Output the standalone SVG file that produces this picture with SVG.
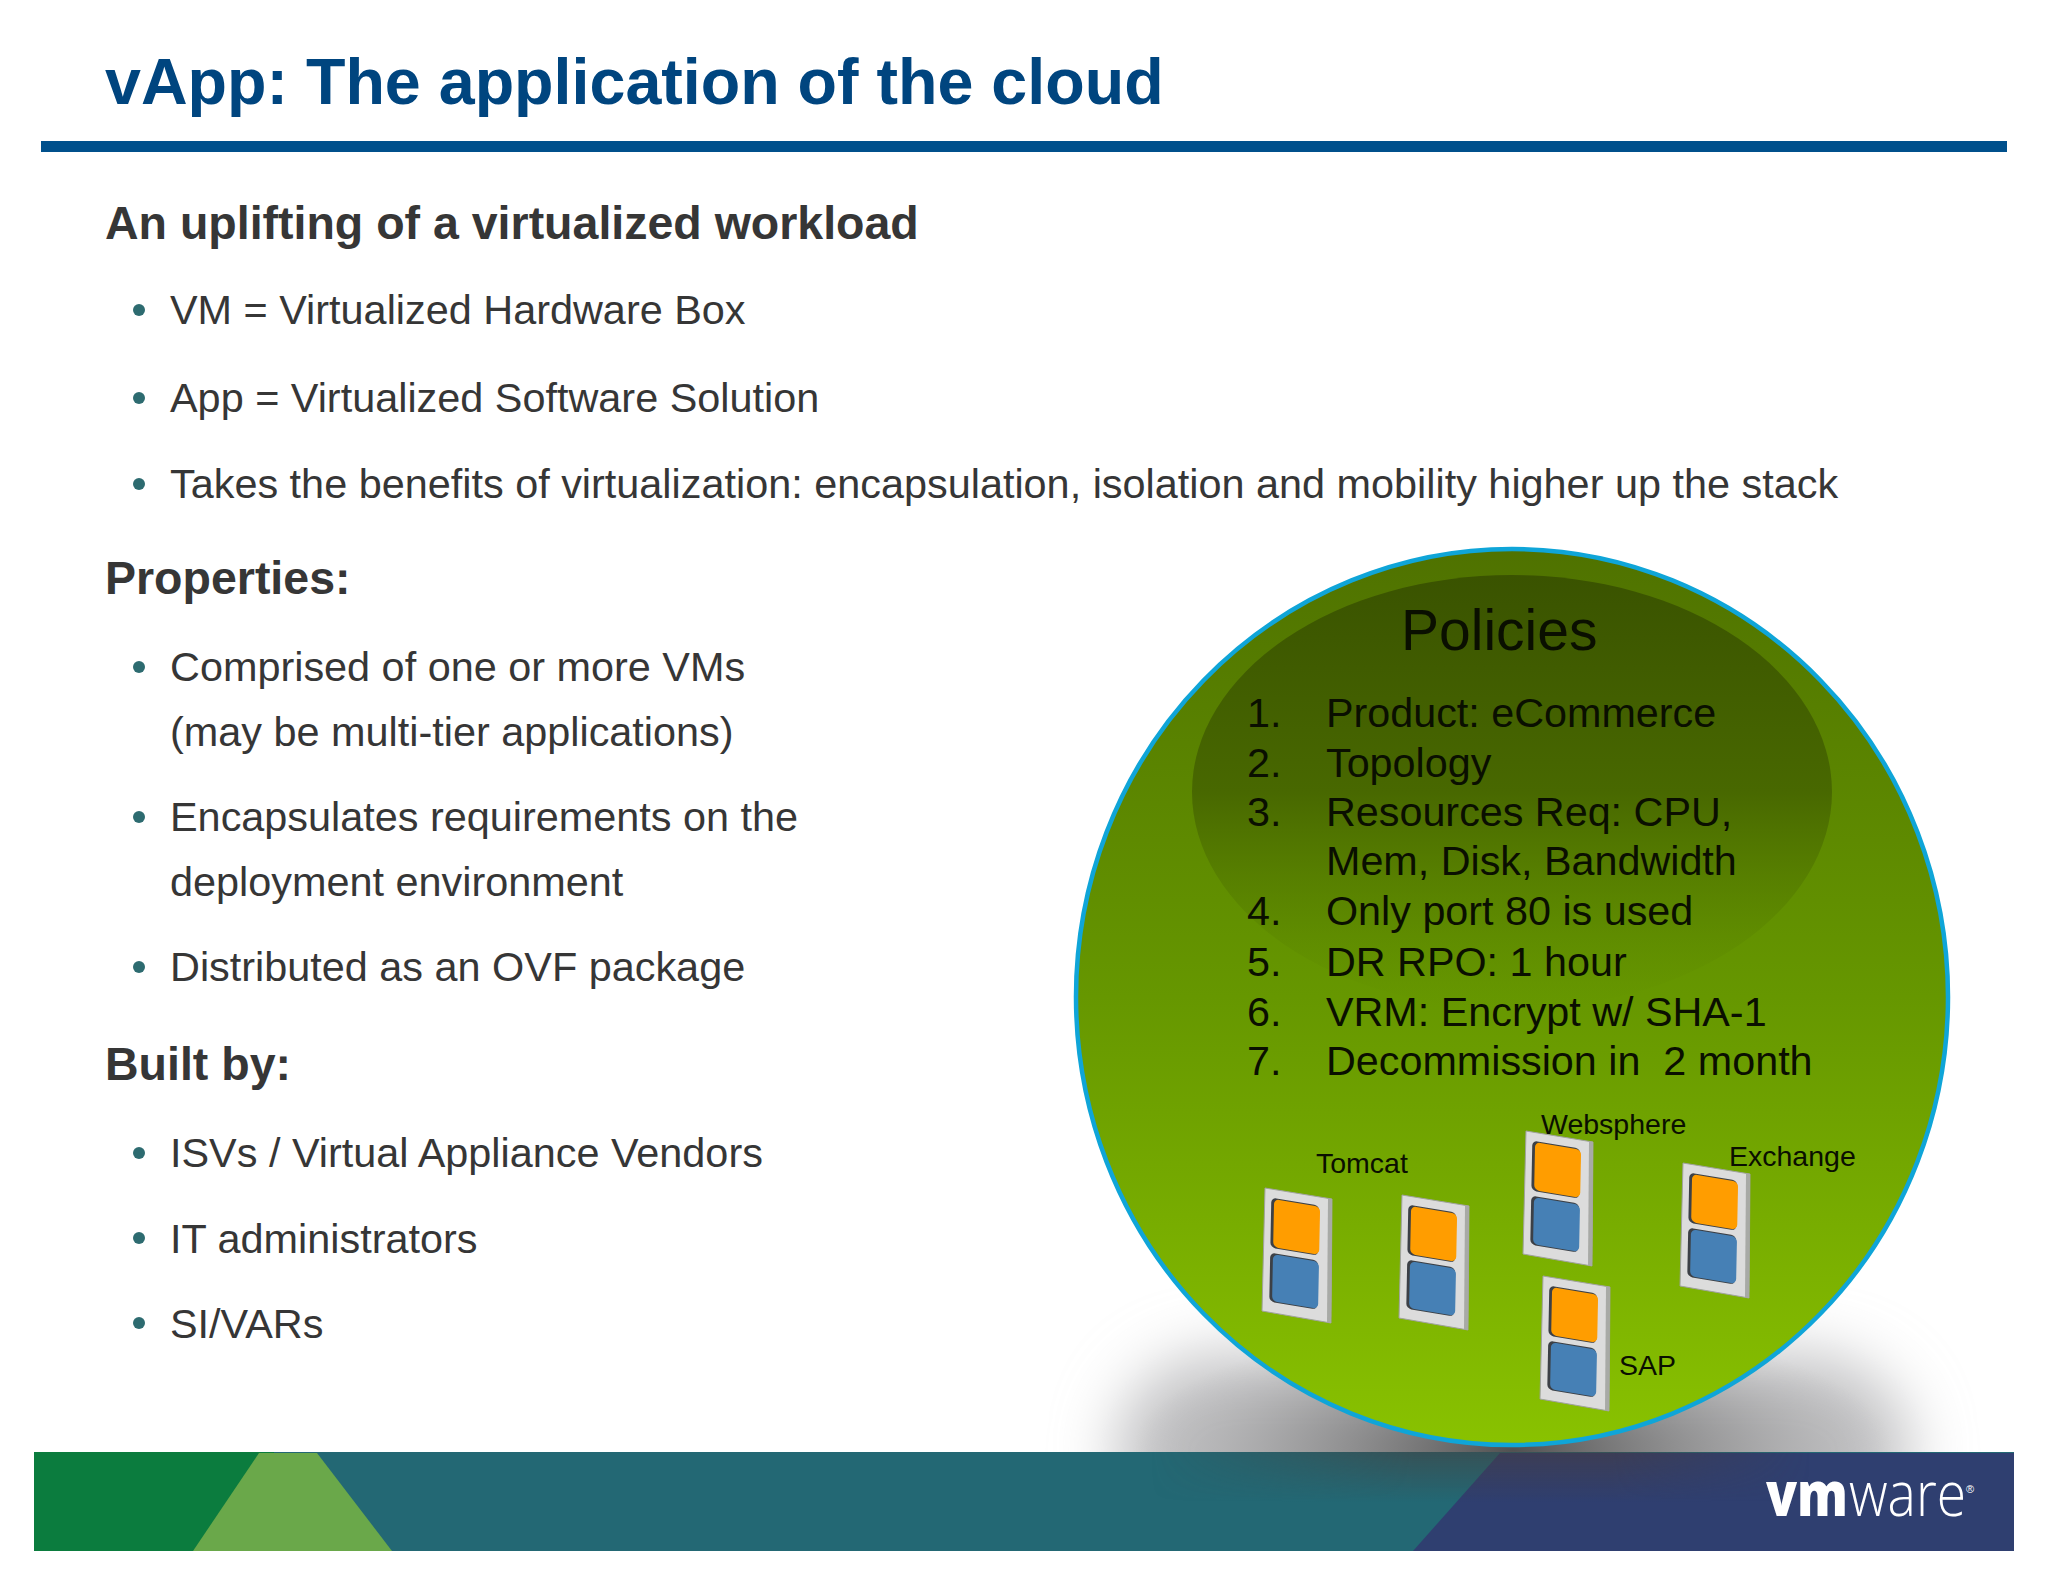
<svg xmlns="http://www.w3.org/2000/svg" width="2048" height="1582" viewBox="0 0 2048 1582">
<style>
text{font-family:"Liberation Sans",Arial,sans-serif}
.h{font-size:46.500px;font-weight:700;fill:#363636}
.b{font-size:41.400px;fill:#363636}
.d{fill:#2d6b70}
.p{font-size:41.300px;fill:#0a0f00}
.l{font-size:28.500px;fill:#0a0f00}
</style>
<defs>
<linearGradient id="sph" x1="0" y1="0" x2="0" y2="1"><stop offset="0" stop-color="#4f7200"/><stop offset=".5" stop-color="#669700"/><stop offset="1" stop-color="#89c200"/></linearGradient>
<linearGradient id="inner" x1="0" y1="0" x2="0" y2="1"><stop offset="0" stop-color="#3a5300"/><stop offset=".5" stop-color="#486800"/><stop offset="1" stop-color="#5f8c00" stop-opacity="0"/></linearGradient>
<radialGradient id="shadow"><stop offset="0" stop-color="#444" stop-opacity=".9"/><stop offset=".6" stop-color="#666" stop-opacity=".35"/><stop offset="1" stop-color="#888" stop-opacity="0"/></radialGradient>
<filter id="soft" x="-20%" y="-40%" width="140%" height="180%"><feGaussianBlur stdDeviation="30"/></filter>
<linearGradient id="barShade" x1="0" y1="0" x2="0" y2="1"><stop offset="0" stop-color="#4a3c3a" stop-opacity=".5"/><stop offset="1" stop-color="#4a3c3a" stop-opacity="0"/></linearGradient>
<linearGradient id="barFadeH" x1="0" y1="0" x2="1" y2="0"><stop offset="0" stop-color="#fff" stop-opacity="0"/><stop offset=".4" stop-color="#fff"/><stop offset=".7" stop-color="#fff"/><stop offset="1" stop-color="#fff" stop-opacity="0"/></linearGradient>
<mask id="barMask"><rect x="1150" y="1452" width="660" height="50" fill="url(#barFadeH)"/></mask>
<clipPath id="aboveBar"><rect x="1000" y="1280" width="1048" height="172"/></clipPath>
<g id="server">
<polygon points="0,0 67,11 66,135 -3,123" fill="#dcdcdc" stroke="#a0a29e" stroke-width="1"/>
<polygon points="63,10.500 67,11 66,135 62,134" fill="#a8aaa6"/>
<g transform="matrix(1 .167 -.02 1 0 0)">
<rect x="6.500" y="8.500" width="48" height="50" rx="5" fill="#3c4046"/>
<rect x="9.300" y="9.500" width="46" height="48" rx="5" fill="#ff9d00"/>
<rect x="6.500" y="63.500" width="48" height="49" rx="5" fill="#3c4046"/>
<rect x="9.300" y="64.700" width="46" height="47" rx="5" fill="#4680b5"/>
</g>
</g>
</defs>
<rect width="2048" height="1582" fill="#fff"/>
<g id="header">
<text x="105" y="104" font-size="64.600" font-weight="700" fill="#00457f">vApp: The application of the cloud</text>
<rect x="41" y="141" width="1966" height="11" fill="#00508c"/>
</g>
<g id="bullets">
<text class="h" x="105" y="239">An uplifting of a virtualized workload</text>
<circle class="d" cx="139" cy="310" r="6"/><text class="b" x="170" y="324">VM = Virtualized Hardware Box</text>
<circle class="d" cx="139" cy="398" r="6"/><text class="b" x="170" y="412">App = Virtualized Software Solution</text>
<circle class="d" cx="139" cy="484" r="6"/><text class="b" x="170" y="498">Takes the benefits of virtualization: encapsulation, isolation and mobility higher up the stack</text>
<text class="h" x="105" y="594">Properties:</text>
<circle class="d" cx="139" cy="667" r="6"/><text class="b" x="170" y="681">Comprised of one or more VMs</text>
<text class="b" x="170" y="746">(may be multi-tier applications)</text>
<circle class="d" cx="139" cy="817" r="6"/><text class="b" x="170" y="831">Encapsulates requirements on the</text>
<text class="b" x="170" y="896">deployment environment</text>
<circle class="d" cx="139" cy="967" r="6"/><text class="b" x="170" y="981">Distributed as an OVF package</text>
<text class="h" x="105" y="1080">Built by:</text>
<circle class="d" cx="139" cy="1153" r="6"/><text class="b" x="170" y="1167">ISVs / Virtual Appliance Vendors</text>
<circle class="d" cx="139" cy="1238" r="6"/><text class="b" x="170" y="1253">IT administrators</text>
<circle class="d" cx="139" cy="1323" r="6"/><text class="b" x="170" y="1338">SI/VARs</text>
</g>
<g id="shadow-blob" clip-path="url(#aboveBar)">
<rect x="1115" y="1352" width="796" height="200" rx="110" fill="#c4c4c6" filter="url(#soft)"/>
<ellipse cx="1513" cy="1450" rx="380" ry="130" fill="url(#shadow)"/>
</g>
<g id="footer">
<rect x="34" y="1452" width="1980" height="99" fill="#236874"/>
<rect x="34" y="1452" width="240" height="99" fill="#0b7c3e"/>
<polygon points="259,1453 317,1453 392,1551 193,1551" fill="#6aa84a"/>
<polygon points="1500,1453 2014,1453 2014,1551 1413,1551" fill="#2f3f70"/>
<rect x="1150" y="1452" width="660" height="50" fill="url(#barShade)" mask="url(#barMask)"/>
<text x="1766" y="1516" font-size="62" font-weight="800" fill="#fff" textLength="82" lengthAdjust="spacingAndGlyphs" style="font-family:'Open Sans','Liberation Sans',sans-serif">vm</text>
<text x="1849" y="1516" font-size="62" font-weight="300" fill="#fff" textLength="117" lengthAdjust="spacingAndGlyphs" style="font-family:'Open Sans','Liberation Sans',sans-serif">ware</text>
<text x="1966" y="1493" font-size="11" fill="#fff">®</text>
</g>
<g id="sphere">
<ellipse cx="1512" cy="997" rx="436" ry="448" fill="url(#sph)" stroke="#0fa5d8" stroke-width="4.500"/>
<ellipse cx="1512" cy="792" rx="320" ry="217" fill="url(#inner)"/>
</g>
<g id="policies">
<text x="1401" y="650" font-size="57" fill="#0a0f00">Policies</text>
<text class="p" x="1247" y="727">1.</text><text class="p" x="1326" y="727">Product: eCommerce</text>
<text class="p" x="1247" y="777">2.</text><text class="p" x="1326" y="777">Topology</text>
<text class="p" x="1247" y="826">3.</text><text class="p" x="1326" y="826">Resources Req: CPU,</text>
<text class="p" x="1326" y="875">Mem, Disk, Bandwidth</text>
<text class="p" x="1247" y="925">4.</text><text class="p" x="1326" y="925">Only port 80 is used</text>
<text class="p" x="1247" y="976">5.</text><text class="p" x="1326" y="976">DR RPO: 1 hour</text>
<text class="p" x="1247" y="1026">6.</text><text class="p" x="1326" y="1026">VRM: Encrypt w/ SHA-1</text>
<text class="p" x="1247" y="1075">7.</text><text class="p" x="1326" y="1075" xml:space="preserve">Decommission in  2 month</text>
</g>
<g id="node-tomcat-1"><use href="#server" x="1265" y="1188"/></g>
<g id="node-tomcat-2"><use href="#server" x="1402" y="1195"/></g>
<g id="node-websphere"><use href="#server" x="1526" y="1131"/></g>
<g id="node-exchange"><use href="#server" x="1683" y="1163"/></g>
<g id="node-sap"><use href="#server" x="1543" y="1276"/></g>
<g id="labels">
<text class="l" x="1316" y="1173">Tomcat</text>
<text class="l" x="1541" y="1134">Websphere</text>
<text class="l" x="1729" y="1166">Exchange</text>
<text class="l" x="1619" y="1375">SAP</text>
</g>
<g id="connectors"/>
</svg>
